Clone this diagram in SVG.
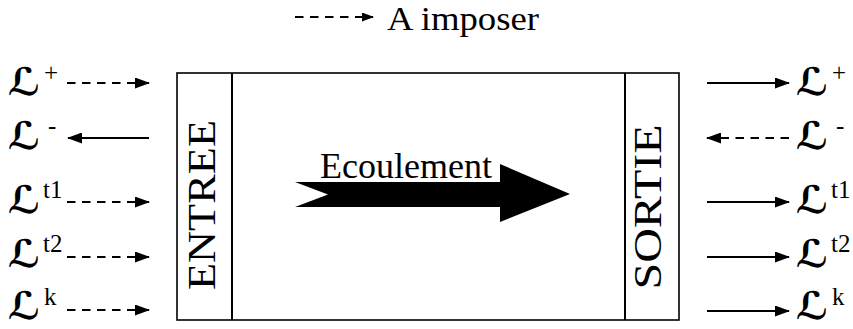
<svg xmlns="http://www.w3.org/2000/svg" width="853" height="329" viewBox="0 0 853 329">
<defs>
<style>
.t{font-family:"Liberation Serif","Times New Roman",serif;fill:#000}
.L{font-family:"DejaVu Serif","DejaVu Sans",serif;font-size:38px;font-style:italic;font-weight:bold;fill:#000}
.sup{font-family:"Liberation Serif","Times New Roman",serif;font-size:25px;fill:#000}
.dash{stroke:#000;stroke-width:2;fill:none;stroke-dasharray:8.5 6.5}
.solid{stroke:#000;stroke-width:2;fill:none}
.box{stroke:#000;stroke-width:1.6;fill:#fff}
</style>
<marker id="ah" viewBox="0 0 15 11" refX="14" refY="5.5" markerWidth="15" markerHeight="11" markerUnits="userSpaceOnUse" orient="auto">
<path d="M0,0 L15,5.5 L0,11 Z" fill="#000"/>
</marker>
<marker id="ahs" viewBox="0 0 12 9" refX="11" refY="4.5" markerWidth="12" markerHeight="9" markerUnits="userSpaceOnUse" orient="auto">
<path d="M0,0 L12,4.5 L0,9 Z" fill="#000"/>
</marker>
</defs>
<rect width="853" height="329" fill="#fff"/>
<g id="legend">
<line class="dash" x1="295" y1="17" x2="373" y2="17" marker-end="url(#ahs)"/>
<text class="t" x="387" y="30" font-size="34" textLength="152" lengthAdjust="spacingAndGlyphs">A imposer</text>
</g>
<g id="domaine">
<rect class="box" x="177" y="73" width="502" height="247"/>
<line class="solid" x1="232" y1="73" x2="232" y2="320" stroke-width="1.6"/>
<line class="solid" x1="625" y1="73" x2="625" y2="320" stroke-width="1.6"/>
</g>
<g id="entree">
<text class="t" font-size="40" text-anchor="middle" transform="translate(215,205) rotate(-90)" textLength="170" lengthAdjust="spacingAndGlyphs">ENTREE</text>
</g>
<g id="sortie">
<text class="t" font-size="40" text-anchor="middle" transform="translate(661,207) rotate(-90)" textLength="165" lengthAdjust="spacingAndGlyphs">SORTIE</text>
</g>
<g id="ecoulement">
<path d="M295,182 L500,182 L500,164 L570,194 L500,222 L500,207 L295,207 L328,194.5 Z" fill="#000"/>
<text class="t" x="320" y="178" font-size="36">Ecoulement</text>
</g>
<g id="connectors">
<line class="dash" x1="67" y1="83" x2="149" y2="83" marker-end="url(#ah)"/>
<line class="solid" x1="149" y1="138" x2="68" y2="138" marker-end="url(#ah)"/>
<line class="dash" x1="67" y1="202" x2="149" y2="202" marker-end="url(#ah)"/>
<line class="dash" x1="67" y1="257" x2="149" y2="257" marker-end="url(#ah)"/>
<line class="dash" x1="67" y1="310" x2="149" y2="310" marker-end="url(#ah)"/>
<line class="solid" x1="707" y1="83" x2="789" y2="83" marker-end="url(#ah)"/>
<line class="dash" x1="789" y1="138" x2="707" y2="138" marker-end="url(#ah)"/>
<line class="solid" x1="707" y1="202" x2="789" y2="202" marker-end="url(#ah)"/>
<line class="solid" x1="707" y1="257" x2="789" y2="257" marker-end="url(#ah)"/>
<line class="solid" x1="707" y1="311" x2="789" y2="311" marker-end="url(#ah)"/>
</g>
<g id="labels-left">
<text class="L" x="8" y="95">ℒ</text><text class="sup" x="44" y="81">+</text>
<text class="L" x="8" y="149">ℒ</text><text class="sup" x="48" y="134">-</text>
<text class="L" x="8" y="213">ℒ</text><text class="sup" x="43" y="198">t1</text>
<text class="L" x="8" y="267">ℒ</text><text class="sup" x="43" y="252">t2</text>
<text class="L" x="8" y="319">ℒ</text><text class="sup" x="44" y="305">k</text>
</g>
<g id="labels-right">
<text class="L" x="796" y="95">ℒ</text><text class="sup" x="832" y="81">+</text>
<text class="L" x="796" y="149">ℒ</text><text class="sup" x="836" y="134">-</text>
<text class="L" x="796" y="213">ℒ</text><text class="sup" x="831" y="198">t1</text>
<text class="L" x="796" y="267">ℒ</text><text class="sup" x="831" y="252">t2</text>
<text class="L" x="796" y="319">ℒ</text><text class="sup" x="832" y="305">k</text>
</g>
</svg>
